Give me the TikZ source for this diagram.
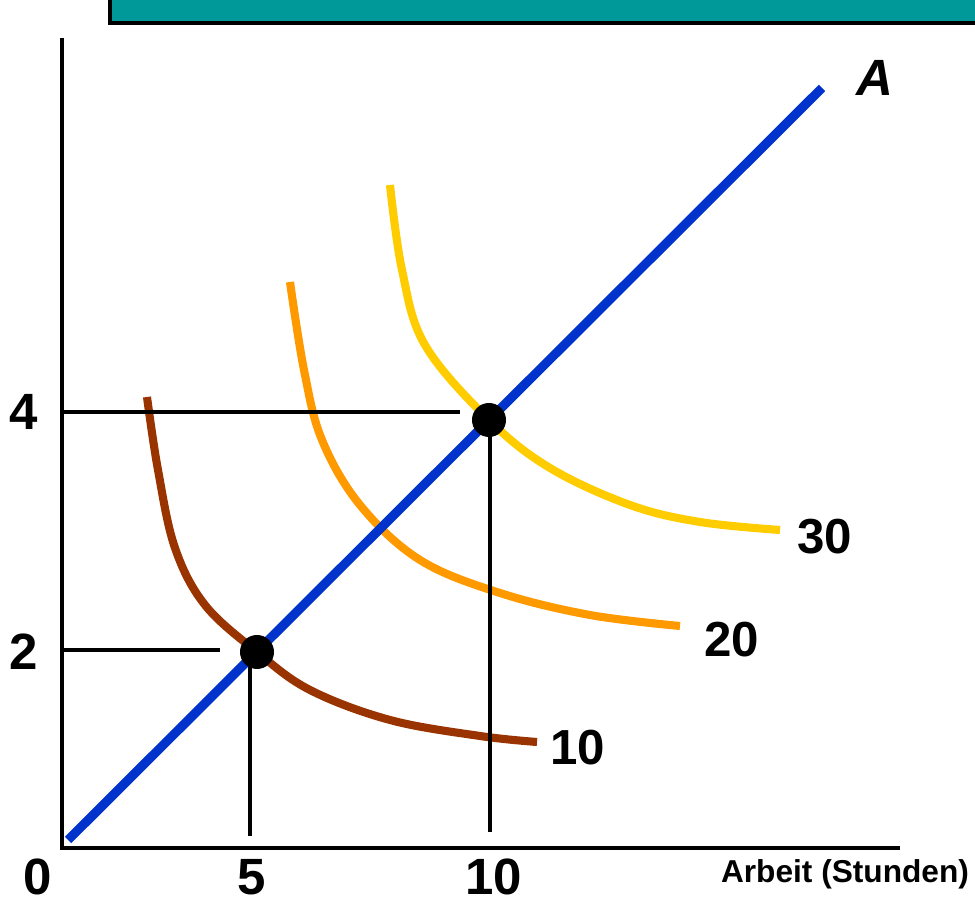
\documentclass[tikz,border=0pt]{standalone}
\usepackage{fontspec}
\setmainfont{Liberation Sans}
\definecolor{teal}{HTML}{009999}
\definecolor{isobrown}{HTML}{993300}
\definecolor{isoorange}{HTML}{FF9900}
\definecolor{isoyellow}{HTML}{FFCC00}
\definecolor{pathblue}{HTML}{0033CC}
\begin{document}
\begin{tikzpicture}[x=0.01cm,y=-0.01cm,
axis/.style={draw=black,line width=1.2pt},
guide/.style={draw=black,line width=0.9pt},
iso/.style={line width=2.3pt,smooth,tension=0.6},
dot/.style={circle,fill=black,inner sep=0pt,minimum size=0.34cm},
tick/.style={font=\bfseries\fontsize{14.5}{14.5}\selectfont,text=black,inner sep=1pt},
curvelabel/.style={font=\bfseries\fontsize{14}{14}\selectfont,text=black}
]
\useasboundingbox (0,0) rectangle (975,901);
% banner
\draw[fill=teal,line width=1pt] (110,-30) rectangle (1000,23);
% axes
\coordinate (o) at (62,848);
\coordinate (ytop) at (62,38);
\coordinate (xend) at (900,848);
\draw[axis] (ytop) -- (o) -- (xend);
\node[tick] (l0) at (38,877) {0};
\node[tick] (l5) at (252,877) {5};
\node[tick] (l10) at (494,877) {10};
\node[tick] (l4) at (24,412) {4};
\node[tick] (l2) at (24,652) {2};
\node[font=\bfseries\fontsize{9}{9}\selectfont,inner sep=1pt] (xlab) at (845,874) {Arbeit (Stunden)};
% isoquants
\draw[iso,isobrown] plot coordinates {(147,397) (158,470) (175,548) (205,605) (257,652) (310,690) (390,720) (480,736) (537,742)};
\draw[iso,isoorange] plot coordinates {(290,282) (304,370) (322,440) (360,505) (420,560) (500,593) (590,615) (680,626)};
\draw[iso,isoyellow] plot coordinates {(390,185) (402,270) (425,345) (489,420) (550,468) (630,505) (700,522) (780,530)};
\node[curvelabel] (q10) at (578,748) {10};
\node[curvelabel] (q20) at (732,640) {20};
\node[curvelabel] (q30) at (825,537) {30};
% expansion path
\coordinate (a0) at (68,840);
\coordinate (a1) at (822,88);
\draw[pathblue,line width=2.6pt] (a0) -- (a1);
\node[font=\bfseries\itshape\fontsize{14.5}{14.5}\selectfont] (alab) at (875,78) {A};
% chosen points
\node[dot] (p1) at (257,652) {};
\node[dot] (p2) at (489,420) {};
\coordinate (h2) at (62,650);
\coordinate (h2e) at (220,650);
\coordinate (h4) at (62,412);
\coordinate (h4e) at (460,412);
\coordinate (v5) at (250,665);
\coordinate (v5e) at (250,836);
\coordinate (v10) at (490,430);
\coordinate (v10e) at (490,832);
\draw[guide] (h2) -- (h2e);
\draw[guide] (h4) -- (h4e);
\draw[guide] (v5) -- (v5e);
\draw[guide] (v10) -- (v10e);
\end{tikzpicture}
\end{document}
